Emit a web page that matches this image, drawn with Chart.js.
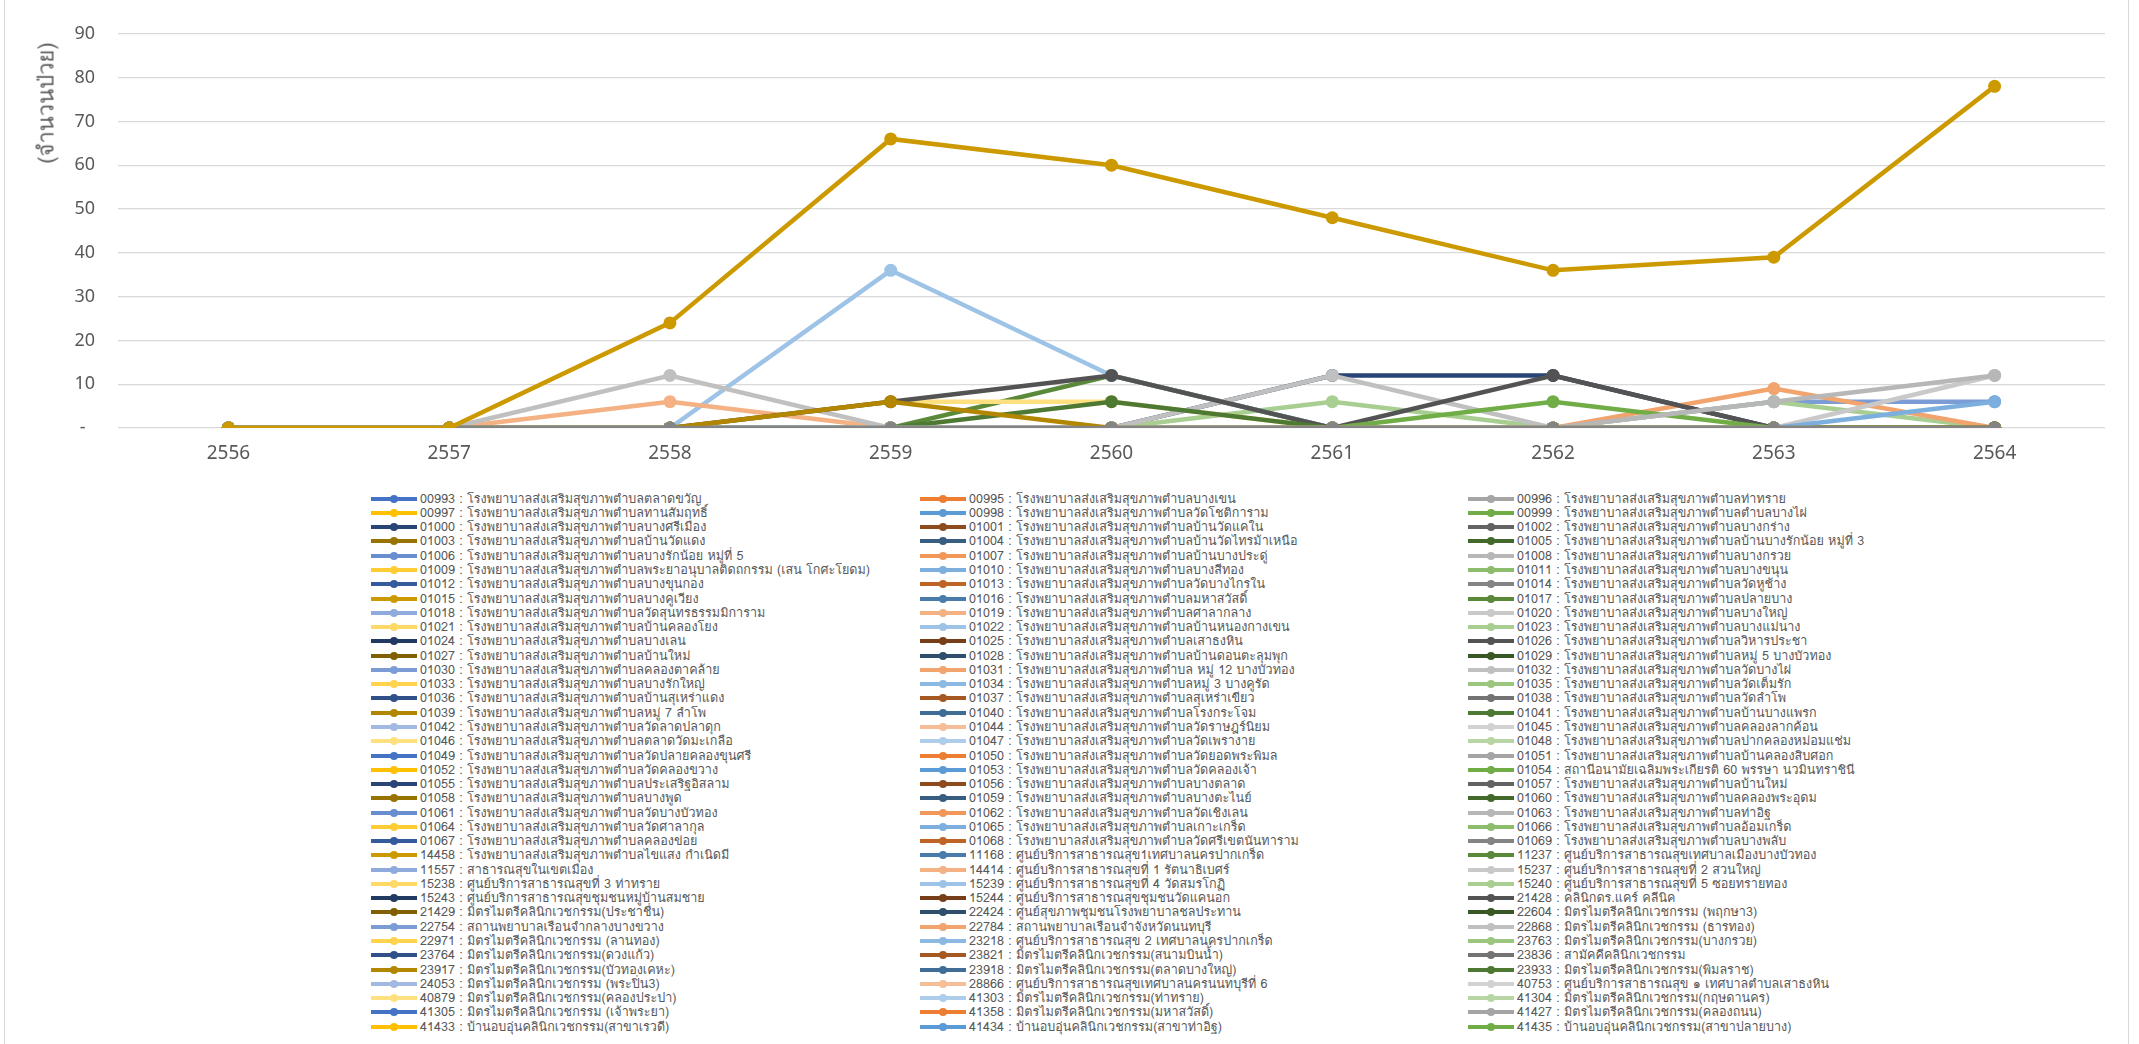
<!DOCTYPE html>
<html>
<head>
<meta charset="utf-8">
<script src="https://cdn.jsdelivr.net/npm/chart.js@4.4.0/dist/chart.umd.min.js"></script>
<style>
    body { margin: 0; background: #fff; }
    #page { position: relative; width: 2139px; height: 1044px; overflow: hidden; font-family: Loma, 'Noto Sans Thai', 'Noto Sans', sans-serif; }
    #frame { position: absolute; left: 4px; top: 0; width: 2123px; height: 1044px; border-left: 1px solid #d9d9d9; border-right: 1px solid #d9d9d9; }
    #chartBox { position: absolute; left: 0; top: 0; width: 2139px; height: 480px; }
    #yTitle { position: absolute; left: 46px; top: 103px; transform: translate(-50%, -50%) rotate(-90deg); font-size: 22px; color: #595959; white-space: nowrap; }
    .item { position: absolute; height: 14px; line-height: 14px; font-size: 12.6px; color: #595959; white-space: nowrap; }
    .swatch { position: absolute; left: 0; top: 5px; width: 46px; height: 4px; }
    .dot { position: absolute; left: 19px; top: 3px; width: 8px; height: 8px; border-radius: 50%; }
    .txt { position: absolute; left: 49px; top: 0; }
</style>
</head>
<body>
<div id="page">
    <div id="frame"></div>
    <div id="chartBox"><canvas id="caseChart" width="2139" height="480"></canvas></div>
    <div id="yTitle">(จำนวนป่วย)</div>
    <div id="legend"></div>
</div>
<script>
// Years on the category axis
const years = ['2556', '2557', '2558', '2559', '2560', '2561', '2562', '2563', '2564'];

// Y axis ticks
const yTicks = [0, 10, 20, 30, 40, 50, 60, 70, 80, 90];

// Series names, legend order (row by row, 3 per row)
const hospitals = [
    '00993 : โรงพยาบาลส่งเสริมสุขภาพตำบลตลาดขวัญ',
    '00995 : โรงพยาบาลส่งเสริมสุขภาพตำบลบางเขน',
    '00996 : โรงพยาบาลส่งเสริมสุขภาพตำบลท่าทราย',
    '00997 : โรงพยาบาลส่งเสริมสุขภาพตำบลทานสัมฤทธิ์',
    '00998 : โรงพยาบาลส่งเสริมสุขภาพตำบลวัดโชติการาม',
    '00999 : โรงพยาบาลส่งเสริมสุขภาพตำบลตำบลบางไผ่',
    '01000 : โรงพยาบาลส่งเสริมสุขภาพตำบลบางศรีเมือง',
    '01001 : โรงพยาบาลส่งเสริมสุขภาพตำบลบ้านวัดแคใน',
    '01002 : โรงพยาบาลส่งเสริมสุขภาพตำบลบางกร่าง',
    '01003 : โรงพยาบาลส่งเสริมสุขภาพตำบลบ้านวัดแดง',
    '01004 : โรงพยาบาลส่งเสริมสุขภาพตำบลบ้านวัดไทรม้าเหนือ',
    '01005 : โรงพยาบาลส่งเสริมสุขภาพตำบลบ้านบางรักน้อย หมู่ที่ 3',
    '01006 : โรงพยาบาลส่งเสริมสุขภาพตำบลบางรักน้อย หมู่ที่ 5',
    '01007 : โรงพยาบาลส่งเสริมสุขภาพตำบลบ้านบางประดู่',
    '01008 : โรงพยาบาลส่งเสริมสุขภาพตำบลบางกรวย',
    '01009 : โรงพยาบาลส่งเสริมสุขภาพตำบลพระยาอนุบาลติดถกรรม (เสน โกศะโยดม)',
    '01010 : โรงพยาบาลส่งเสริมสุขภาพตำบลบางสีทอง',
    '01011 : โรงพยาบาลส่งเสริมสุขภาพตำบลบางขนุน',
    '01012 : โรงพยาบาลส่งเสริมสุขภาพตำบลบางขุนกอง',
    '01013 : โรงพยาบาลส่งเสริมสุขภาพตำบลวัดบางไกรใน',
    '01014 : โรงพยาบาลส่งเสริมสุขภาพตำบลวัดหูช้าง',
    '01015 : โรงพยาบาลส่งเสริมสุขภาพตำบลบางคูเวียง',
    '01016 : โรงพยาบาลส่งเสริมสุขภาพตำบลมหาสวัสดิ์',
    '01017 : โรงพยาบาลส่งเสริมสุขภาพตำบลปลายบาง',
    '01018 : โรงพยาบาลส่งเสริมสุขภาพตำบลวัดสุนทรธรรมมิการาม',
    '01019 : โรงพยาบาลส่งเสริมสุขภาพตำบลศาลากลาง',
    '01020 : โรงพยาบาลส่งเสริมสุขภาพตำบลบางใหญ่',
    '01021 : โรงพยาบาลส่งเสริมสุขภาพตำบลบ้านคลองโยง',
    '01022 : โรงพยาบาลส่งเสริมสุขภาพตำบลบ้านหนองกางเขน',
    '01023 : โรงพยาบาลส่งเสริมสุขภาพตำบลบางแม่นาง',
    '01024 : โรงพยาบาลส่งเสริมสุขภาพตำบลบางเลน',
    '01025 : โรงพยาบาลส่งเสริมสุขภาพตำบลเสาธงหิน',
    '01026 : โรงพยาบาลส่งเสริมสุขภาพตำบลวิหารประชา',
    '01027 : โรงพยาบาลส่งเสริมสุขภาพตำบลบ้านใหม่',
    '01028 : โรงพยาบาลส่งเสริมสุขภาพตำบลบ้านดอนตะลุมพุก',
    '01029 : โรงพยาบาลส่งเสริมสุขภาพตำบลหมู่ 5 บางบัวทอง',
    '01030 : โรงพยาบาลส่งเสริมสุขภาพตำบลคลองตาคล้าย',
    '01031 : โรงพยาบาลส่งเสริมสุขภาพตำบล หมู่ 12 บางบัวทอง',
    '01032 : โรงพยาบาลส่งเสริมสุขภาพตำบลวัดบางไผ่',
    '01033 : โรงพยาบาลส่งเสริมสุขภาพตำบลบางรักใหญ่',
    '01034 : โรงพยาบาลส่งเสริมสุขภาพตำบลหมู่ 3 บางคูรัด',
    '01035 : โรงพยาบาลส่งเสริมสุขภาพตำบลวัดเต็มรัก',
    '01036 : โรงพยาบาลส่งเสริมสุขภาพตำบลบ้านสุเหร่าแดง',
    '01037 : โรงพยาบาลส่งเสริมสุขภาพตำบลสุเหร่าเขียว',
    '01038 : โรงพยาบาลส่งเสริมสุขภาพตำบลวัดลำโพ',
    '01039 : โรงพยาบาลส่งเสริมสุขภาพตำบลหมู่ 7 ลำโพ',
    '01040 : โรงพยาบาลส่งเสริมสุขภาพตำบลโรงกระโจม',
    '01041 : โรงพยาบาลส่งเสริมสุขภาพตำบลบ้านบางแพรก',
    '01042 : โรงพยาบาลส่งเสริมสุขภาพตำบลวัดลาดปลาดุก',
    '01044 : โรงพยาบาลส่งเสริมสุขภาพตำบลวัดราษฎร์นิยม',
    '01045 : โรงพยาบาลส่งเสริมสุขภาพตำบลคลองลากค้อน',
    '01046 : โรงพยาบาลส่งเสริมสุขภาพตำบลตลาดวัดมะเกลือ',
    '01047 : โรงพยาบาลส่งเสริมสุขภาพตำบลวัดเพรางาย',
    '01048 : โรงพยาบาลส่งเสริมสุขภาพตำบลปากคลองหม่อมแช่ม',
    '01049 : โรงพยาบาลส่งเสริมสุขภาพตำบลวัดปลายคลองขุนศรี',
    '01050 : โรงพยาบาลส่งเสริมสุขภาพตำบลวัดยอดพระพิมล',
    '01051 : โรงพยาบาลส่งเสริมสุขภาพตำบลบ้านคลองสิบศอก',
    '01052 : โรงพยาบาลส่งเสริมสุขภาพตำบลวัดคลองขวาง',
    '01053 : โรงพยาบาลส่งเสริมสุขภาพตำบลวัดคลองเจ้า',
    '01054 : สถานีอนามัยเฉลิมพระเกียรติ 60 พรรษา นวมินทราชินี',
    '01055 : โรงพยาบาลส่งเสริมสุขภาพตำบลประเสริฐอิสลาม',
    '01056 : โรงพยาบาลส่งเสริมสุขภาพตำบลบางตลาด',
    '01057 : โรงพยาบาลส่งเสริมสุขภาพตำบลบ้านใหม่',
    '01058 : โรงพยาบาลส่งเสริมสุขภาพตำบลบางพูด',
    '01059 : โรงพยาบาลส่งเสริมสุขภาพตำบลบางตะไนย์',
    '01060 : โรงพยาบาลส่งเสริมสุขภาพตำบลคลองพระอุดม',
    '01061 : โรงพยาบาลส่งเสริมสุขภาพตำบลวัดบางบัวทอง',
    '01062 : โรงพยาบาลส่งเสริมสุขภาพตำบลวัดเชิงเลน',
    '01063 : โรงพยาบาลส่งเสริมสุขภาพตำบลท่าอิฐ',
    '01064 : โรงพยาบาลส่งเสริมสุขภาพตำบลวัดศาลากุล',
    '01065 : โรงพยาบาลส่งเสริมสุขภาพตำบลเกาะเกร็ด',
    '01066 : โรงพยาบาลส่งเสริมสุขภาพตำบลอ้อมเกร็ด',
    '01067 : โรงพยาบาลส่งเสริมสุขภาพตำบลคลองข่อย',
    '01068 : โรงพยาบาลส่งเสริมสุขภาพตำบลวัดศรีเขตนันทาราม',
    '01069 : โรงพยาบาลส่งเสริมสุขภาพตำบลบางพลับ',
    '14458 : โรงพยาบาลส่งเสริมสุขภาพตำบลไขแสง กำเนิดมี',
    '11168 : ศูนย์บริการสาธารณสุข1เทศบาลนครปากเกร็ด',
    '11237 : ศูนย์บริการสาธารณสุขเทศบาลเมืองบางบัวทอง',
    '11557 : สาธารณสุขในเขตเมือง',
    '14414 : ศูนย์บริการสาธารณสุขที่ 1 รัตนาธิเบศร์',
    '15237 : ศูนย์บริการสาธารณสุขที่ 2 สวนใหญ่',
    '15238 : ศูนย์บริการสาธารณสุขที่ 3 ท่าทราย',
    '15239 : ศูนย์บริการสาธารณสุขที่ 4 วัดสมรโกฏิ',
    '15240 : ศูนย์บริการสาธารณสุขที่ 5 ซอยทรายทอง',
    '15243 : ศูนย์บริการสาธารณสุขชุมชนหมู่บ้านสมชาย',
    '15244 : ศูนย์บริการสาธารณสุขชุมชนวัดแคนอก',
    '21428 : คลินิกดร.แคร์ คลีนิค',
    '21429 : มิตรไมตรีคลินิกเวชกรรม(ประชาชื่น)',
    '22424 : ศูนย์สุขภาพชุมชนโรงพยาบาลชลประทาน',
    '22604 : มิตรไมตรีคลินิกเวชกรรม (พฤกษา3)',
    '22754 : สถานพยาบาลเรือนจำกลางบางขวาง',
    '22784 : สถานพยาบาลเรือนจำจังหวัดนนทบุรี',
    '22868 : มิตรไมตรีคลินิกเวชกรรม (ธารทอง)',
    '22971 : มิตรไมตรีคลินิกเวชกรรม (ลานทอง)',
    '23218 : ศูนย์บริการสาธารณสุข 2 เทศบาลนครปากเกร็ด',
    '23763 : มิตรไมตรีคลินิกเวชกรรม(บางกรวย)',
    '23764 : มิตรไมตรีคลินิกเวชกรรม(ดวงแก้ว)',
    '23821 : มิตรไมตรีคลินิกเวชกรรม(สนามบินน้ำ)',
    '23836 : สามัคคีคลินิกเวชกรรม',
    '23917 : มิตรไมตรีคลินิกเวชกรรม(บัวทองเคหะ)',
    '23918 : มิตรไมตรีคลินิกเวชกรรม(ตลาดบางใหญ่)',
    '23933 : มิตรไมตรีคลินิกเวชกรรม(พิมลราช)',
    '24053 : มิตรไมตรีคลินิกเวชกรรม (พระปิ่น3)',
    '28866 : ศูนย์บริการสาธารณสุขเทศบาลนครนนทบุรีที่ 6',
    '40753 : ศูนย์บริการสาธารณสุข ๑ เทศบาลตำบลเสาธงหิน',
    '40879 : มิตรไมตรีคลินิกเวชกรรม(คลองประปา)',
    '41303 : มิตรไมตรีคลินิกเวชกรรม(ท่าทราย)',
    '41304 : มิตรไมตรีคลินิกเวชกรรม(กฤษดานคร)',
    '41305 : มิตรไมตรีคลินิกเวชกรรม (เจ้าพระยา)',
    '41358 : มิตรไมตรีคลินิกเวชกรรม(มหาสวัสดิ์)',
    '41427 : มิตรไมตรีคลินิกเวชกรรม(คลองถนน)',
    '41433 : บ้านอบอุ่นคลินิกเวชกรรม(สาขาเรวดี)',
    '41434 : บ้านอบอุ่นคลินิกเวชกรรม(สาขาท่าอิฐ)',
    '41435 : บ้านอบอุ่นคลินิกเวชกรรม(สาขาปลายบาง)'
];

// Case counts per year (series with any cases)
const cases14458 = [0, 0, 24, 66, 60, 48, 36, 39, 78];
const cases01022 = [0, 0, 0, 36, 12, 0, 0, 0, 0];
const cases22868 = [0, 0, 12, 0, 0, 12, 0, 0, 0];
const cases01019 = [0, 0, 6, 0, 0, 0, 0, 0, 0];
const cases01039 = [0, 0, 0, 6, 0, 0, 0, 0, 0];
const cases01046 = [0, 0, 0, 6, 6, 0, 0, 0, 0];
const cases21428 = [0, 0, 0, 6, 12, 0, 12, 0, 0];
const cases11237 = [0, 0, 0, 0, 12, 0, 0, 0, 0];
const cases23933 = [0, 0, 0, 0, 6, 0, 0, 0, 0];
const cases15240 = [0, 0, 0, 0, 0, 6, 0, 0, 0];
const cases01055 = [0, 0, 0, 0, 0, 12, 12, 0, 0];
const cases01054 = [0, 0, 0, 0, 0, 0, 6, 0, 0];
const cases22784 = [0, 0, 0, 0, 0, 0, 0, 9, 0];
const cases01063 = [0, 0, 0, 0, 0, 0, 0, 6, 12];
const cases22754 = [0, 0, 0, 0, 0, 0, 0, 6, 6];
const cases01023 = [0, 0, 0, 0, 0, 0, 0, 6, 0];
const cases15237 = [0, 0, 0, 0, 0, 0, 0, 0, 12];
const cases01065 = [0, 0, 0, 0, 0, 0, 0, 0, 6];
// every other unit reported nothing
const noCases = [0, 0, 0, 0, 0, 0, 0, 0, 0];

const casesByCode = {
    '14458': cases14458, '01022': cases01022, '22868': cases22868, '01019': cases01019,
    '01039': cases01039, '01046': cases01046, '21428': cases21428, '11237': cases11237,
    '23933': cases23933, '15240': cases15240, '01055': cases01055, '01054': cases01054,
    '22784': cases22784, '01063': cases01063, '22754': cases22754, '01023': cases01023,
    '15237': cases15237, '01065': cases01065
};

// Drawing order (lower = drawn on top)
const drawOrder = {
    '14458': 0, '01069': 1, '01039': 2, '23933': 2, '01063': 2, '15237': 2, '01065': 2,
    '21428': 3, '22868': 3, '22784': 3, '01054': 3,
    '01022': 4, '01019': 4, '01046': 4, '11237': 4, '15240': 4, '22754': 4, '01023': 4,
    '01055': 5
};

// Office palette with the shade / tint cycle Excel uses after 6 series
const baseColors = [[68, 114, 196], [237, 125, 49], [165, 165, 165], [255, 192, 0], [91, 155, 213], [112, 173, 71]];
const variants = [0, -0.4, 0.2, -0.2, 0.4, -0.5, 0.3, -0.3, 0.5];

function seriesColor(i) {
    const base = baseColors[i % 6];
    const v = variants[Math.floor(i / 6) % 9];
    const rgb = base.map(c => Math.round(v < 0 ? c * (1 + v) : c + (255 - c) * v));
    return 'rgb(' + rgb.join(',') + ')';
}

const datasets = hospitals.map((name, i) => {
    const code = name.slice(0, 5);
    const color = seriesColor(i);
    return {
        label: name,
        data: casesByCode[code] || noCases,
        borderColor: color,
        backgroundColor: color,
        pointBackgroundColor: color,
        pointBorderWidth: 0,
        pointRadius: 6.5,
        borderWidth: 4.5,
        tension: 0,
        order: code in drawOrder ? drawOrder[code] : 10
    };
});

const ctx = document.getElementById('caseChart').getContext('2d');
const chart = new Chart(ctx, {
    type: 'line',
    data: {
        labels: years,
        datasets: datasets
    },
    options: {
        responsive: false,
        animation: false,
        layout: {
            padding: { left: 0, top: 24, right: 34, bottom: 0 }
        },
        plugins: {
            legend: { display: false },
            tooltip: { enabled: false }
        },
        scales: {
            x: {
                offset: true,
                grid: { display: false, drawTicks: false },
                border: { display: false },
                ticks: {
                    color: '#595959',
                    font: { size: 19, family: "'Noto Sans', sans-serif" },
                    padding: 14
                },
                afterFit: scale => { scale.height = 52; }
            },
            y: {
                min: 0,
                max: 90,
                afterBuildTicks: scale => { scale.ticks = yTicks.map(v => ({ value: v })); },
                grid: { color: '#d9d9d9', lineWidth: 1.3, drawTicks: false },
                border: { display: false },
                ticks: {
                    color: '#595959',
                    font: { size: 18, family: "'Noto Sans', sans-serif" },
                    padding: 23,
                    callback: value => value === 0 ? '-  ' : value
                },
                afterFit: scale => { scale.width = 118; }
            }
        }
    }
});

// HTML legend in three aligned columns, same order as the datasets
const legendEl = document.getElementById('legend');
const colX = [371, 920, 1468];
chart.data.datasets.forEach((ds, i) => {
    const row = Math.floor(i / 3);
    const col = i % 3;
    const item = document.createElement('div');
    item.className = 'item';
    item.style.left = colX[col] + 'px';
    item.style.top = (498.6 + row * 14.27 - 7).toFixed(1) + 'px';
    item.innerHTML = '<span class="swatch" style="background:' + ds.borderColor + '"></span>' +
        '<span class="dot" style="background:' + ds.borderColor + '"></span>' +
        '<span class="txt"></span>';
    item.querySelector('.txt').textContent = ds.label;
    legendEl.appendChild(item);
});
</script>
</body>
</html>
